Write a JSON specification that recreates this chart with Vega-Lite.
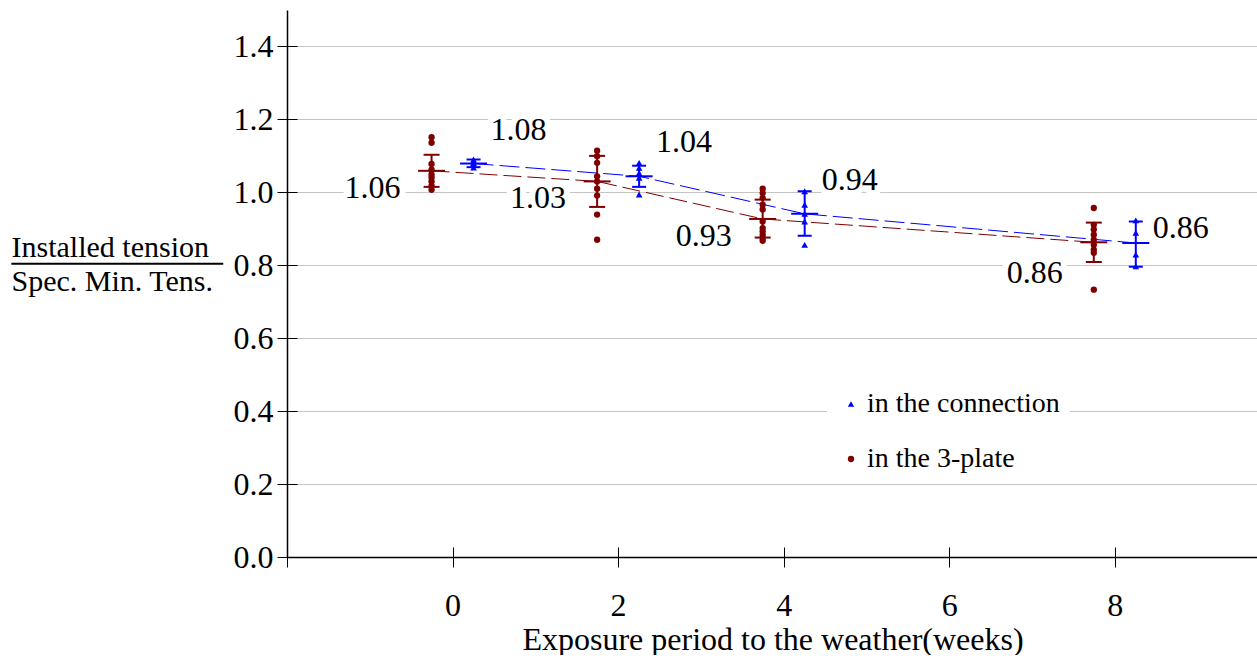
{
  "$schema": "https://vega.github.io/schema/vega-lite/v6.json",
  "width": 971,
  "height": 547,
  "padding": {"left": 10, "top": 10, "right": 0, "bottom": 0},
  "background": "white",
  "config": {
    "font": "Liberation Serif",
    "view": {"stroke": null},
    "legend": {"labelFont": "Liberation Serif", "labelFontSize": 28, "labelColor": "black", "labelLimit": 400, "symbolSize": 40, "symbolOpacity": 1}
  },
  "datasets": {
    "pts": [
      {"series": "in the 3-plate", "week": 0, "value": 1.151},
      {"series": "in the 3-plate", "week": 0, "value": 1.136},
      {"series": "in the 3-plate", "week": 0, "value": 1.078},
      {"series": "in the 3-plate", "week": 0, "value": 1.062},
      {"series": "in the 3-plate", "week": 0, "value": 1.049},
      {"series": "in the 3-plate", "week": 0, "value": 1.040},
      {"series": "in the 3-plate", "week": 0, "value": 1.030},
      {"series": "in the 3-plate", "week": 0, "value": 1.018},
      {"series": "in the 3-plate", "week": 0, "value": 1.007},
      {"series": "in the 3-plate", "week": 2, "value": 1.114},
      {"series": "in the 3-plate", "week": 2, "value": 1.099},
      {"series": "in the 3-plate", "week": 2, "value": 1.081},
      {"series": "in the 3-plate", "week": 2, "value": 1.044},
      {"series": "in the 3-plate", "week": 2, "value": 1.030},
      {"series": "in the 3-plate", "week": 2, "value": 1.010},
      {"series": "in the 3-plate", "week": 2, "value": 0.991},
      {"series": "in the 3-plate", "week": 2, "value": 0.939},
      {"series": "in the 3-plate", "week": 2, "value": 0.870},
      {"series": "in the 3-plate", "week": 4, "value": 1.010},
      {"series": "in the 3-plate", "week": 4, "value": 0.998},
      {"series": "in the 3-plate", "week": 4, "value": 0.985},
      {"series": "in the 3-plate", "week": 4, "value": 0.966},
      {"series": "in the 3-plate", "week": 4, "value": 0.953},
      {"series": "in the 3-plate", "week": 4, "value": 0.920},
      {"series": "in the 3-plate", "week": 4, "value": 0.902},
      {"series": "in the 3-plate", "week": 4, "value": 0.893},
      {"series": "in the 3-plate", "week": 4, "value": 0.884},
      {"series": "in the 3-plate", "week": 4, "value": 0.875},
      {"series": "in the 3-plate", "week": 4, "value": 0.867},
      {"series": "in the 3-plate", "week": 8, "value": 0.957},
      {"series": "in the 3-plate", "week": 8, "value": 0.911},
      {"series": "in the 3-plate", "week": 8, "value": 0.898},
      {"series": "in the 3-plate", "week": 8, "value": 0.884},
      {"series": "in the 3-plate", "week": 8, "value": 0.870},
      {"series": "in the 3-plate", "week": 8, "value": 0.856},
      {"series": "in the 3-plate", "week": 8, "value": 0.843},
      {"series": "in the 3-plate", "week": 8, "value": 0.834},
      {"series": "in the 3-plate", "week": 8, "value": 0.733},
      {"series": "in the connection", "week": 0, "value": 1.090},
      {"series": "in the connection", "week": 0, "value": 1.085},
      {"series": "in the connection", "week": 0, "value": 1.080},
      {"series": "in the connection", "week": 0, "value": 1.075},
      {"series": "in the connection", "week": 0, "value": 1.068},
      {"series": "in the connection", "week": 2, "value": 1.081},
      {"series": "in the connection", "week": 2, "value": 1.067},
      {"series": "in the connection", "week": 2, "value": 1.053},
      {"series": "in the connection", "week": 2, "value": 1.040},
      {"series": "in the connection", "week": 2, "value": 0.994},
      {"series": "in the connection", "week": 4, "value": 1.003},
      {"series": "in the connection", "week": 4, "value": 0.966},
      {"series": "in the connection", "week": 4, "value": 0.941},
      {"series": "in the connection", "week": 4, "value": 0.920},
      {"series": "in the connection", "week": 4, "value": 0.856},
      {"series": "in the connection", "week": 8, "value": 0.923},
      {"series": "in the connection", "week": 8, "value": 0.889},
      {"series": "in the connection", "week": 8, "value": 0.829},
      {"series": "in the connection", "week": 8, "value": 0.797}
    ],
    "stats": [
      {"series": "in the 3-plate", "week": 0, "mean": 1.059, "lo": 1.015, "hi": 1.103},
      {"series": "in the 3-plate", "week": 2, "mean": 1.030, "lo": 0.960, "hi": 1.100},
      {"series": "in the 3-plate", "week": 4, "mean": 0.927, "lo": 0.876, "hi": 0.980},
      {"series": "in the 3-plate", "week": 8, "mean": 0.863, "lo": 0.809, "hi": 0.917},
      {"series": "in the connection", "week": 0, "mean": 1.079, "lo": 1.069, "hi": 1.090},
      {"series": "in the connection", "week": 2, "mean": 1.044, "lo": 1.015, "hi": 1.073},
      {"series": "in the connection", "week": 4, "mean": 0.941, "lo": 0.881, "hi": 1.003},
      {"series": "in the connection", "week": 8, "mean": 0.861, "lo": 0.796, "hi": 0.920}
    ]
  },
  "layer": [
    {
      "data": {"name": "stats"},
      "transform": [{"filter": "datum.series === 'in the 3-plate'"}],
      "mark": {"type": "line", "color": "#800000", "strokeWidth": 1, "strokeDash": [18, 6], "xOffset": -21},
      "encoding": {
        "x": {"field": "week", "type": "quantitative", "scale": {"domain": [-2, 9.73], "nice": false, "zero": false},
          "axis": {"values": [-2, 0, 2, 4, 6, 8], "title": "Exposure period to the weather(weeks)", "titleFontSize": 32, "titleFontWeight": "normal", "titleColor": "black", "titlePadding": 3,
            "labelFontSize": 32, "labelColor": "black", "labelPadding": 23, "labelExpr": "datum.value < 0 ? '' : format(datum.value, 'd')", "labelFlush": false, "labelOverlap": false,
            "domain": false, "offset": -10, "tickSize": 20, "tickColor": "black", "tickWidth": 1,
            "grid": true, "gridColor": "black", "gridWidth": 1.5, "gridOpacity": {"condition": {"test": "datum.value < -1", "value": 1}, "value": 0}}},
        "y": {"field": "mean", "type": "quantitative", "scale": {"domain": [0, 1.5], "nice": false},
          "axis": {"values": [0, 0.1, 0.2, 0.3, 0.4, 0.5, 0.6, 0.7, 0.8, 0.9, 1.0, 1.1, 1.2, 1.3, 1.4, 1.5],
            "title": ["Installed tension", "Spec. Min. Tens."], "titleAngle": 0, "titleAlign": "left", "titleBaseline": "alphabetic", "titleX": -286, "titleY": 246, "titleLineHeight": 34, "titleFontSize": 30, "titleFontWeight": "normal", "titleColor": "black",
            "labelFontSize": 32, "labelColor": "black", "labelPadding": 4, "labelOverlap": false, "labelFlush": false,
            "labelExpr": "(round(datum.value*10) % 2 === 0 && datum.value < 1.45) ? format(datum.value, '.1f') : ''",
            "domain": false, "offset": -10, "tickSize": 20, "tickColor": "black", "tickWidth": 1,
            "tickOpacity": {"condition": {"test": "round(datum.value*10) % 2 === 0 && datum.value < 1.45", "value": 1}, "value": 0},
            "grid": true,
            "gridColor": {"condition": {"test": "datum.value < 0.05", "value": "black"}, "value": "#c4c4c4"},
            "gridWidth": {"condition": {"test": "datum.value < 0.05", "value": 1.5}, "value": 1}}}
      }
    },
    {
      "data": {"values": [{}]},
      "mark": {"type": "rule", "color": "black", "strokeWidth": 2, "clip": false},
      "encoding": {
        "x": {"datum": -5.33, "type": "quantitative"},
        "x2": {"datum": -2.77},
        "y": {"datum": 0.804, "type": "quantitative"}
      }
    },
    {
      "data": {"name": "stats"},
      "transform": [{"filter": "datum.series === 'in the connection'"}],
      "mark": {"type": "line", "color": "#0000ff", "strokeWidth": 1, "strokeDash": [20, 6], "xOffset": 21},
      "encoding": {
        "x": {"field": "week", "type": "quantitative"},
        "y": {"field": "mean", "type": "quantitative"}
      }
    },
    {
      "data": {"name": "stats"},
      "transform": [{"filter": "datum.series === 'in the 3-plate'"}],
      "mark": {"type": "rule", "color": "#800000", "strokeWidth": 2, "xOffset": -21},
      "encoding": {
        "x": {"field": "week", "type": "quantitative"},
        "y": {"field": "lo", "type": "quantitative"},
        "y2": {"field": "hi"}
      }
    },
    {
      "data": {"name": "stats"},
      "transform": [{"filter": "datum.series === 'in the connection'"}],
      "mark": {"type": "rule", "color": "#0000ff", "strokeWidth": 2, "xOffset": 21},
      "encoding": {
        "x": {"field": "week", "type": "quantitative"},
        "y": {"field": "lo", "type": "quantitative"},
        "y2": {"field": "hi"}
      }
    },
    {
      "data": {"name": "stats"},
      "transform": [{"filter": "datum.series === 'in the 3-plate'"}, {"fold": ["lo", "hi"], "as": ["k", "v"]}],
      "mark": {"type": "tick", "orient": "horizontal", "size": 16, "thickness": 2, "color": "#800000", "opacity": 1, "xOffset": -21},
      "encoding": {
        "x": {"field": "week", "type": "quantitative"},
        "y": {"field": "v", "type": "quantitative"}
      }
    },
    {
      "data": {"name": "stats"},
      "transform": [{"filter": "datum.series === 'in the connection'"}, {"fold": ["lo", "hi"], "as": ["k", "v"]}],
      "mark": {"type": "tick", "orient": "horizontal", "size": 14, "thickness": 2, "color": "#0000ff", "opacity": 1, "xOffset": 21},
      "encoding": {
        "x": {"field": "week", "type": "quantitative"},
        "y": {"field": "v", "type": "quantitative"}
      }
    },
    {
      "data": {"name": "stats"},
      "transform": [{"filter": "datum.series === 'in the 3-plate'"}],
      "mark": {"type": "tick", "orient": "horizontal", "size": 27, "thickness": 2, "color": "#800000", "opacity": 1, "xOffset": -21},
      "encoding": {
        "x": {"field": "week", "type": "quantitative"},
        "y": {"field": "mean", "type": "quantitative"}
      }
    },
    {
      "data": {"name": "stats"},
      "transform": [{"filter": "datum.series === 'in the connection'"}],
      "mark": {"type": "tick", "orient": "horizontal", "size": 27, "thickness": 2, "color": "#0000ff", "opacity": 1, "xOffset": 21},
      "encoding": {
        "x": {"field": "week", "type": "quantitative"},
        "y": {"field": "mean", "type": "quantitative"}
      }
    },
    {
      "data": {"name": "pts"},
      "transform": [{"filter": "datum.series === 'in the 3-plate'"}],
      "mark": {"type": "point", "filled": true, "size": 40, "opacity": 1, "xOffset": -21},
      "encoding": {
        "x": {"field": "week", "type": "quantitative"},
        "y": {"field": "value", "type": "quantitative"},
        "color": {"field": "series", "type": "nominal", "scale": {"domain": ["in the connection", "in the 3-plate"], "range": ["#0000ff", "#800000"]},
          "legend": {"title": null, "orient": "none", "legendX": 540, "legendY": 370, "fillColor": "white", "padding": 10, "rowPadding": 27, "labelOffset": 2, "symbolOffset": 0}},
        "shape": {"field": "series", "type": "nominal", "scale": {"domain": ["in the connection", "in the 3-plate"], "range": ["triangle-up", "circle"]},
          "legend": {"title": null, "orient": "none", "legendX": 540, "legendY": 370, "fillColor": "white", "padding": 10, "rowPadding": 27, "labelOffset": 2, "symbolOffset": 0}}
      }
    },
    {
      "data": {"name": "pts"},
      "transform": [{"filter": "datum.series === 'in the connection'"}],
      "mark": {"type": "point", "filled": true, "size": 45, "opacity": 1, "xOffset": 21},
      "encoding": {
        "x": {"field": "week", "type": "quantitative"},
        "y": {"field": "value", "type": "quantitative"},
        "color": {"field": "series", "type": "nominal"},
        "shape": {"field": "series", "type": "nominal"}
      }
    },
    {
      "data": {"name": "stats"},
      "transform": [{"filter": "datum.series === 'in the 3-plate'"}],
      "mark": {"type": "text", "fontSize": 32, "fill": "white", "stroke": "white", "strokeWidth": 12, "strokeJoin": "round", "align": "center", "baseline": "middle", "dx": -80, "dy": {"expr": "datum.week == 8 ? 31 : 17"}},
      "encoding": {
        "x": {"field": "week", "type": "quantitative"},
        "y": {"field": "mean", "type": "quantitative"},
        "text": {"field": "mean", "type": "quantitative", "format": ".2f"}
      }
    },
    {
      "data": {"name": "stats"},
      "transform": [{"filter": "datum.series === 'in the 3-plate'"}],
      "mark": {"type": "text", "fontSize": 32, "color": "black", "align": "center", "baseline": "middle", "dx": -80, "dy": {"expr": "datum.week == 8 ? 31 : 17"}},
      "encoding": {
        "x": {"field": "week", "type": "quantitative"},
        "y": {"field": "mean", "type": "quantitative"},
        "text": {"field": "mean", "type": "quantitative", "format": ".2f"}
      }
    },
    {
      "data": {"name": "stats"},
      "transform": [{"filter": "datum.series === 'in the connection'"}],
      "mark": {"type": "text", "fontSize": 32, "fill": "white", "stroke": "white", "strokeWidth": 12, "strokeJoin": "round", "align": "center", "baseline": "middle", "dx": 66, "dy": {"expr": "datum.week == 8 ? -15 : -34"}},
      "encoding": {
        "x": {"field": "week", "type": "quantitative"},
        "y": {"field": "mean", "type": "quantitative"},
        "text": {"field": "mean", "type": "quantitative", "format": ".2f"}
      }
    },
    {
      "data": {"name": "stats"},
      "transform": [{"filter": "datum.series === 'in the connection'"}],
      "mark": {"type": "text", "fontSize": 32, "color": "black", "align": "center", "baseline": "middle", "dx": 66, "dy": {"expr": "datum.week == 8 ? -15 : -34"}},
      "encoding": {
        "x": {"field": "week", "type": "quantitative"},
        "y": {"field": "mean", "type": "quantitative"},
        "text": {"field": "mean", "type": "quantitative", "format": ".2f"}
      }
    }
  ]
}
